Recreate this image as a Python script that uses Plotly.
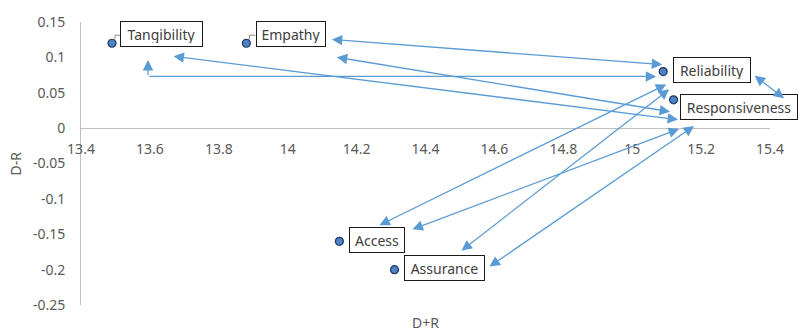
import plotly.graph_objects as go

# Service-quality dimensions: D+R (prominence) vs D-R (relation)
dimensions = ["Tangibility", "Empathy", "Reliability", "Responsiveness", "Access", "Assurance"]
d_plus_r = [13.49, 13.88, 15.09, 15.12, 14.15, 14.31]
d_minus_r = [0.12, 0.12, 0.08, 0.04, -0.16, -0.20]

# Influence links between dimensions (double-headed connectors)
links = [
    ("Empathy", "Reliability"),
    ("Tangibility", "Responsiveness"),
    ("Empathy", "Responsiveness"),
    ("Reliability", "Responsiveness"),
    ("Access", "Reliability"),
    ("Assurance", "Reliability"),
    ("Access", "Responsiveness"),
    ("Assurance", "Responsiveness"),
]

x_ticks = [13.4, 13.6, 13.8, 14.0, 14.2, 14.4, 14.6, 14.8, 15.0, 15.2, 15.4]
x_tick_text = ["13.4", "13.6", "13.8", "14", "14.2", "14.4", "14.6", "14.8", "15", "15.2", "15.4"]
y_ticks = [0.15, 0.1, 0.05, 0, -0.05, -0.1, -0.15, -0.2, -0.25]
y_tick_text = ["0.15", "0.1", "0.05", "0", "-0.05", "-0.1", "-0.15", "-0.2", "-0.25"]

# ---- layout geometry ----
W, H = 800, 331
M = dict(l=81, r=30, t=19, b=26, pad=0)
X_RANGE = [13.4, 15.4]
Y_RANGE = [-0.25, 0.15]
PX_X = (W - M["l"] - M["r"]) / (X_RANGE[1] - X_RANGE[0])
PX_Y = (H - M["t"] - M["b"]) / (Y_RANGE[1] - Y_RANGE[0])

FONT = "Noto Sans"
ARROW = "#5b9bd5"
pos = {n: (x, y) for n, x, y in zip(dimensions, d_plus_r, d_minus_r)}


def at(name, dx, dy):
    """Point of a dimension moved by a screen offset (dx right, dy down) in px."""
    x, y = pos[name]
    return x + dx / PX_X, y - dy / PX_Y


# label box placement relative to each marker: (xshift, yshift, inner width)
label_style = {
    "Tangibility": (8, 9.5, 75),
    "Empathy": (9.5, 9.5, 62),
    "Reliability": (9.5, 2, 70),
    "Responsiveness": (6.5, -7.5, 110),
    "Access": (9.5, 1, 48),
    "Assurance": (9.5, 1.5, 73),
}

# connector end offsets (px) from the marker of each end
link_ends = {
    ("Empathy", "Reliability"): ((84, -4), (-1, -7)),
    ("Tangibility", "Responsiveness"): ((60, 13), (4.5, 20)),
    ("Empathy", "Responsiveness"): ((89, 14), (-3.5, 12)),
    ("Reliability", "Responsiveness"): ((90, 3), (110.5, -1.5)),
    ("Access", "Reliability"): ((38.6, -15.6), (3, 13)),
    ("Assurance", "Reliability"): ((65.5, -18), (6, 18)),
    ("Access", "Responsiveness"): ((71.6, -11.6), (5.5, 29.5)),
    ("Assurance", "Responsiveness"): ((93.5, -2), (20.5, 26.5)),
}

fig = go.Figure()
fig.add_trace(go.Scatter(
    x=d_plus_r, y=d_minus_r, mode="markers", text=dimensions,
    marker=dict(size=8, color="#4f81c7", line=dict(color="#1f3864", width=1.2)),
    hoverinfo="text+x+y", cliponaxis=False, showlegend=False,
))

annotations = []

# labelled boxes
for name in dimensions:
    xs, ys, w = label_style[name]
    x, y = pos[name]
    annotations.append(dict(
        x=x, y=y, xref="x", yref="y", text=name, showarrow=False,
        xanchor="left", yanchor="middle", xshift=xs, yshift=ys,
        width=w, height=18, align="center",
        font=dict(family=FONT, size=14, color="#404040"),
        bgcolor="white", bordercolor="#1a1a1a", borderwidth=1, borderpad=3,
    ))

arrow_common = dict(
    xref="x", yref="y", axref="x", ayref="y", text="", showarrow=True,
    arrowcolor=ARROW, arrowwidth=1.3, arrowhead=2, arrowsize=1.6,
    startarrowhead=2, startarrowsize=1.6, standoff=0, startstandoff=0,
)

# double-headed connectors
for a, b in links:
    oa, ob = link_ends[(a, b)]
    xa, ya = at(a, *oa)
    xb, yb = at(b, *ob)
    annotations.append(dict(x=xb, y=yb, ax=xa, ay=ya, arrowside="end+start", **arrow_common))

# elbow connector Tangibility -> Reliability
corner = at("Tangibility", 36, 34)
tip_up = at("Tangibility", 36, 17)
tip_right = at("Reliability", -7, 5)
annotations.append(dict(x=tip_up[0], y=tip_up[1], ax=corner[0], ay=corner[1],
                        arrowside="end", **arrow_common))
annotations.append(dict(x=tip_right[0], y=tip_right[1], ax=corner[0], ay=tip_right[1],
                        arrowside="end", **arrow_common))

# axis titles
annotations.append(dict(x=0.5, y=-0.0, xref="paper", yref="paper", yshift=-17,
                        text="D+R", showarrow=False, xanchor="center", yanchor="middle",
                        font=dict(family=FONT, size=14, color="#595959")))
annotations.append(dict(x=0, y=0.5, xref="paper", yref="paper", xshift=-66,
                        text="D-R", showarrow=False, textangle=-90,
                        xanchor="center", yanchor="middle",
                        font=dict(family=FONT, size=14, color="#595959")))

# leader lines from markers to their labels
shapes = []
for name in ["Tangibility", "Empathy"]:
    x, y = pos[name]
    shapes.append(dict(
        type="path", xref="x", yref="y", xsizemode="pixel", ysizemode="pixel",
        xanchor=x, yanchor=y, path="M3,4 L3,8 L9,8",
        line=dict(color="#8c8c8c", width=1),
    ))

fig.update_layout(
    width=W, height=H, margin=M,
    paper_bgcolor="white", plot_bgcolor="white",
    font=dict(family=FONT, size=14, color="#595959"),
    xaxis=dict(range=X_RANGE, tickvals=x_ticks, ticktext=x_tick_text,
               showgrid=False, zeroline=False, showline=True, linecolor="#bfbfbf",
               linewidth=1, ticks="", anchor="free", ticklabelstandoff=8,
               position=(0 - Y_RANGE[0]) / (Y_RANGE[1] - Y_RANGE[0]),
               tickfont=dict(family=FONT, size=14, color="#595959")),
    yaxis=dict(range=Y_RANGE, tickvals=y_ticks, ticktext=y_tick_text,
               showgrid=False, zeroline=False, showline=True, linecolor="#bfbfbf",
               linewidth=1, ticks="", ticklabelstandoff=12,
               tickfont=dict(family=FONT, size=14, color="#595959")),
    annotations=annotations,
    shapes=shapes,
)

fig.write_html("out.html")
